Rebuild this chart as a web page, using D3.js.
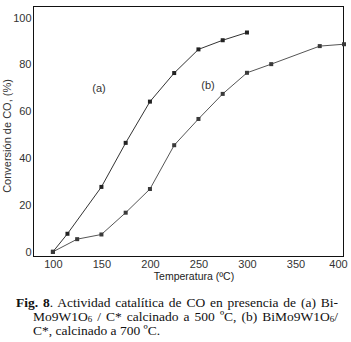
<!DOCTYPE html>
<html>
<head>
<meta charset="utf-8">
<script src="https://cdn.jsdelivr.net/npm/d3@7"></script>
<style>
	body { margin: 0; background: #fff; }
	svg { display: block; }
</style>
</head>
<body>
<div id="chart"></div>
<script>
// Temperature (ºC) and CO conversion (%)
const tempsA = [100, 115, 150, 175, 200, 225, 250, 275, 300]
const convA = [0, 7.7, 27.7, 46.5, 64.1, 76.3, 86.4, 90.3, 93.6]
const tempsB = [100, 125, 150, 175, 200, 225, 250, 275, 300, 325, 375, 400]
const convB = [0, 5.4, 7.4, 16.7, 26.8, 45.5, 56.7, 67.4, 76.4, 80.1, 87.8, 88.6]
const xTicks = [100, 150, 200, 250, 300, 350, 400]
const yTicks = [0, 20, 40, 60, 80, 100]

const width = 351
const height = 342
const plot = { left: 33.5, right: 343.5, top: 6.5, bottom: 256.5 }

const svg = d3
	.select("#chart")
	.append("svg")
	.attr("width", width)
	.attr("height", height)

const xScale = d3.scaleLinear().domain([80, 400]).range([plot.left, plot.right + 0.5])
const yScale = d3.scaleLinear().domain([-2, 104.7]).range([plot.bottom, plot.top])

// Frame
svg.append("rect")
	.attr("x", plot.left)
	.attr("y", plot.top)
	.attr("width", plot.right - plot.left)
	.attr("height", plot.bottom - plot.top)
	.attr("fill", "none")
	.attr("stroke", "#111")
	.attr("stroke-width", 1)

const tickFont = "'Liberation Sans', Arial, sans-serif"

// Axes (labels only, no tick marks)
const xAxis = svg.append("g")
	.attr("transform", `translate(0,${plot.bottom})`)
	.call(d3.axisBottom(xScale).tickValues(xTicks).tickSize(0).tickPadding(4))
xAxis.select(".domain").remove()
xAxis.selectAll("text")
	.attr("font-family", tickFont)
	.attr("font-size", 11)
	.attr("fill", "#333")
	.attr("dx", (d) => (d === 400 ? -6 : 0))

const yAxis = svg.append("g")
	.attr("transform", `translate(${plot.left},0)`)
	.call(d3.axisLeft(yScale).tickValues(yTicks).tickSize(0).tickPadding(2))
yAxis.select(".domain").remove()
yAxis.selectAll("text")
	.attr("font-family", tickFont)
	.attr("font-size", 11)
	.attr("fill", "#333")

// Axis titles
svg.append("text")
	.attr("x", 194)
	.attr("y", 280)
	.attr("text-anchor", "middle")
	.attr("font-family", tickFont)
	.attr("font-size", 10.5)
	.attr("fill", "#222")
	.text("Temperatura (ºC)")

svg.append("text")
	.attr("transform", "translate(11,136) rotate(-90)")
	.attr("text-anchor", "middle")
	.attr("font-family", tickFont)
	.attr("font-size", 11)
	.attr("fill", "#333")
	.text("Conversión de CO, (%)")

// Lines and square markers
const line = d3
	.line()
	.x((d) => xScale(d.t))
	.y((d) => yScale(d.c))

const series = [
	{ temps: tempsA, conv: convA, stroke: "#333", fill: "#222" },
	{ temps: tempsB, conv: convB, stroke: "#555", fill: "#3a3a3a" },
]

series.forEach((s) => {
	const pts = s.temps.map((t, i) => ({ t: t, c: s.conv[i] }))
	svg.append("path")
		.datum(pts)
		.attr("fill", "none")
		.attr("stroke", s.stroke)
		.attr("stroke-width", 1)
		.attr("d", line)
	svg.selectAll(null)
		.data(pts)
		.enter()
		.append("rect")
		.attr("x", (d) => xScale(d.t) - 2)
		.attr("y", (d) => yScale(d.c) - 2)
		.attr("width", 4)
		.attr("height", 4)
		.attr("fill", s.fill)
})

// Series labels
svg.append("text")
	.attr("x", 99)
	.attr("y", 92)
	.attr("text-anchor", "middle")
	.attr("font-family", tickFont)
	.attr("font-size", 11)
	.attr("fill", "#333")
	.text("(a)")

svg.append("text")
	.attr("x", 208)
	.attr("y", 89)
	.attr("text-anchor", "middle")
	.attr("font-family", tickFont)
	.attr("font-size", 11)
	.attr("fill", "#333")
	.text("(b)")

// Caption (serif, justified lines)
const capFont = "'Liberation Serif', 'Times New Roman', serif"
const capSize = 13.5
const subShift = 1.5
const capLines = [
	{ x: 16, y: 306.5, right: 338, parts: [
		{ t: "Fig. 8", bold: true },
		{ t: ". Actividad catalítica de CO en presencia de (a) Bi-" },
	] },
	{ x: 33, y: 320.5, right: 338, parts: [
		{ t: "Mo9W1O" }, { t: "6", sub: true },
		{ t: " / C* calcinado a 500 ºC, (b) BiMo9W1O" }, { t: "6", sub: true },
		{ t: "/" },
	] },
	{ x: 33, y: 334.5, right: null, parts: [
		{ t: "C*, calcinado a 700 ºC." },
	] },
]

capLines.forEach((ln) => {
	const txt = svg.append("text")
		.attr("x", ln.x)
		.attr("y", ln.y)
		.attr("font-family", capFont)
		.attr("font-size", capSize)
		.attr("fill", "#111")
		.attr("xml:space", "preserve")
	let shifted = false
	ln.parts.forEach((p) => {
		const ts = txt.append("tspan").text(p.t)
		if (p.bold) ts.attr("font-weight", "bold")
		if (p.sub) {
			ts.attr("font-size", capSize * 0.66).attr("dy", subShift)
			shifted = true
		} else if (shifted) {
			ts.attr("dy", -subShift)
			shifted = false
		}
	})
	if (ln.right) {
		const natural = txt.node().getComputedTextLength()
		const full = ln.parts.map((p) => p.t).join("")
		const gaps = (full.match(/ /g) || []).length
		if (gaps > 0) txt.attr("word-spacing", (ln.right - ln.x - natural) / gaps)
	}
})
</script>
</body>
</html>
